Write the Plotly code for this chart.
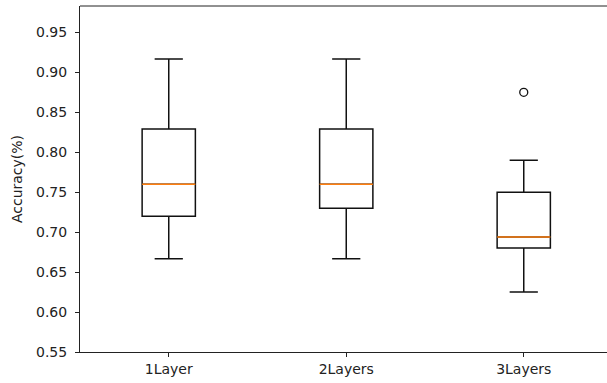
import plotly.graph_objects as go

# Box statistics per model depth
categories = ["1Layer", "2Layers", "3Layers"]
positions = [1, 2, 3]
lower_whisker = [0.6667, 0.6667, 0.625]
q1 = [0.72, 0.73, 0.68]
median = [0.76, 0.76, 0.694]
q3 = [0.829, 0.829, 0.75]
upper_whisker = [0.9167, 0.9167, 0.79]
outlier_x = [3]
outlier_y = [0.875]

y_ticks = [0.55, 0.60, 0.65, 0.70, 0.75, 0.80, 0.85, 0.90, 0.95]

box_width = 0.3
font = dict(family="DejaVu Sans", size=14, color="#222222")

fig = go.Figure()

fig.add_trace(go.Box(
    x=positions,
    q1=q1,
    median=median,
    q3=q3,
    lowerfence=lower_whisker,
    upperfence=upper_whisker,
    width=box_width,
    whiskerwidth=0.53,
    line=dict(color="#111111", width=1.5),
    fillcolor="rgba(255,255,255,0)",
    boxpoints=False,
    hoverinfo="skip",
    showlegend=False,
))

# Orange median lines drawn over each box
mx, my = [], []
for p, m in zip(positions, median):
    mx += [p - box_width / 2, p + box_width / 2, None]
    my += [m, m, None]
fig.add_trace(go.Scatter(
    x=mx, y=my, mode="lines",
    line=dict(color="#ff7f0e", width=1.6),
    hoverinfo="skip", showlegend=False,
))

# Flier points
fig.add_trace(go.Scatter(
    x=outlier_x, y=outlier_y, mode="markers",
    marker=dict(symbol="circle-open", size=8, color="#111111", line=dict(width=1.3)),
    hoverinfo="skip", showlegend=False,
))

left_margin = 80
plot_w = 607 - left_margin
unit_px = 177.5

# Top frame line
fig.add_shape(type="line", xref="paper", yref="paper", x0=0, x1=1, y0=1, y1=1,
              line=dict(color="#222222", width=1))

fig.update_layout(
    width=607,
    height=383,
    margin=dict(l=left_margin, r=0, t=6, b=31),
    paper_bgcolor="white",
    plot_bgcolor="white",
    font=font,
    xaxis=dict(
        range=[0.5, 0.5 + plot_w / unit_px],
        tickvals=positions,
        ticktext=categories,
        showgrid=False,
        zeroline=False,
        showline=True,
        linecolor="#222222",
        linewidth=1,
        ticks="outside",
        ticklen=4,
        tickcolor="#222222",
        tickfont=font,
    ),
    yaxis=dict(
        range=[0.55, 0.983],
        tickvals=y_ticks,
        tickformat=".2f",
        showgrid=False,
        zeroline=False,
        showline=True,
        linecolor="#222222",
        linewidth=1,
        ticks="outside",
        ticklen=4,
        tickcolor="#222222",
        tickfont=font,
        ticklabelstandoff=5,
        title=dict(text="Accuracy(%)", font=font, standoff=10),
    ),
)

fig.write_html("out.html", config={"displayModeBar": False})
